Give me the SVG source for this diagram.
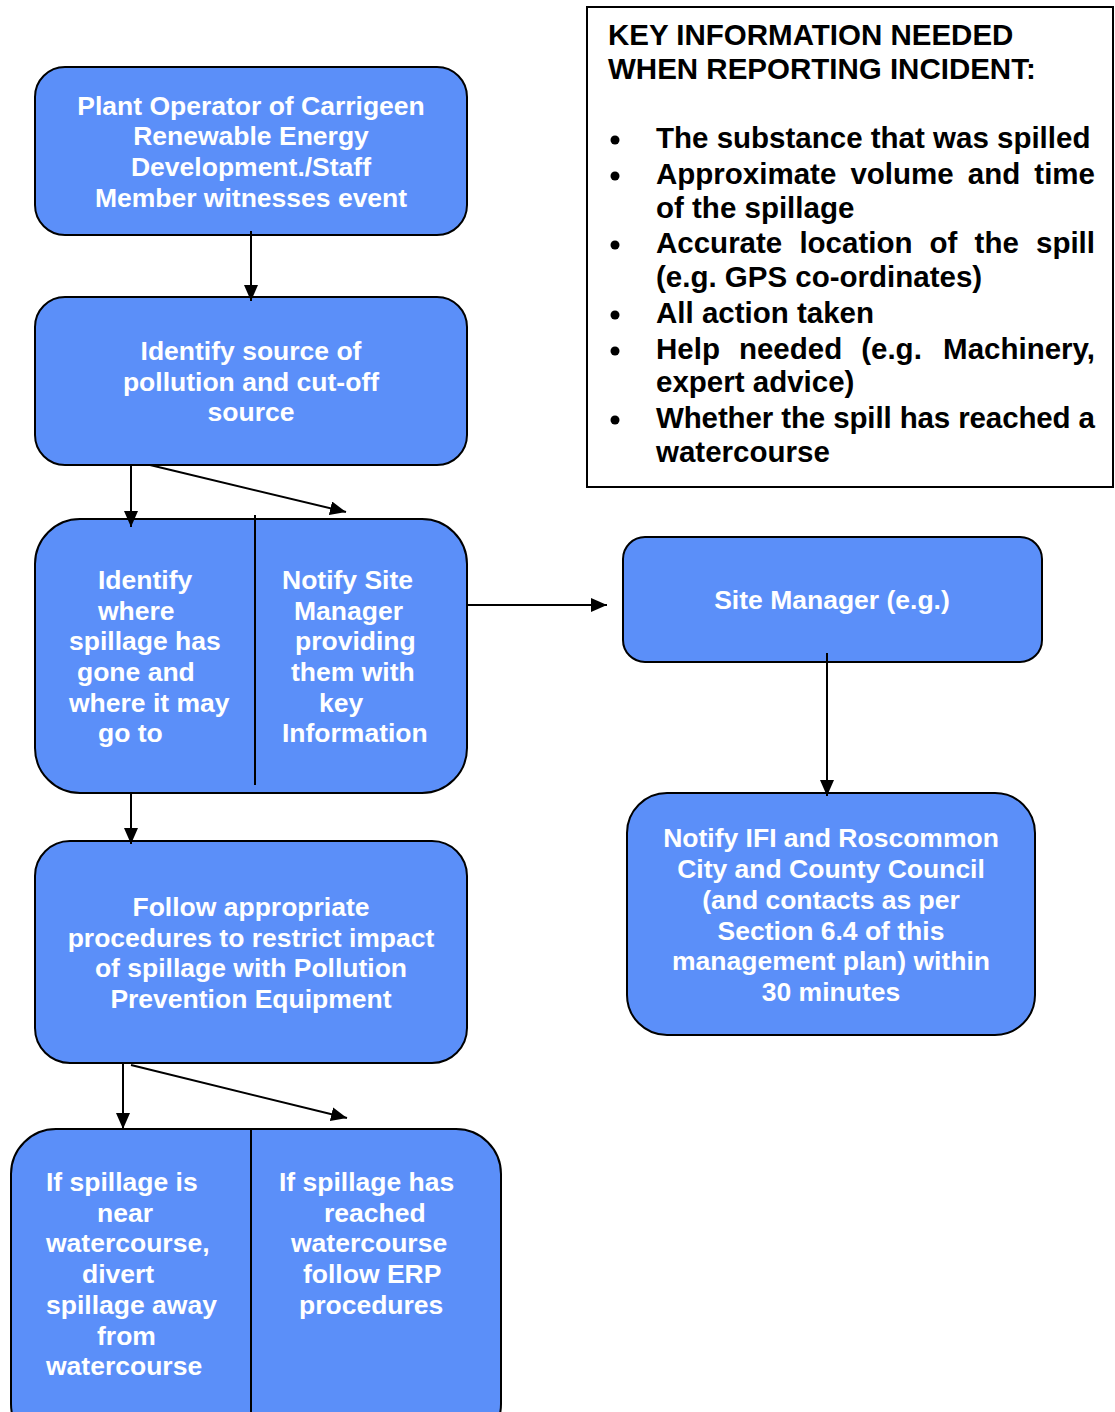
<svg xmlns="http://www.w3.org/2000/svg" width="1115" height="1412" viewBox="0 0 1115 1412">
<style>
.box{fill:#5B8FF9;stroke:#000;stroke-width:2}
.t{font-family:"Liberation Sans",Arial,sans-serif;font-weight:bold;font-size:26.5px;fill:#fff}
.c{text-anchor:middle}
.k{font-family:"Liberation Sans",Arial,sans-serif;font-weight:bold;font-size:29.5px;fill:#000}
.ln{stroke:#000;stroke-width:2;fill:none}
</style>
<defs>
<marker id="ah" markerWidth="16" markerHeight="14" refX="16" refY="7" orient="auto" markerUnits="userSpaceOnUse">
<path d="M0,0 L16,7 L0,14 Z" fill="#000"/>
</marker>
</defs>
<rect width="1115" height="1412" fill="#fff"/>

<g id="key-info">
<rect x="587" y="7" width="526" height="480" fill="#fff" stroke="#000" stroke-width="2"/>
<text class="k" x="608" y="45">KEY INFORMATION NEEDED</text>
<text class="k" x="608" y="79">WHEN REPORTING INCIDENT:</text>
<g fill="#000">
<circle cx="615" cy="140" r="4.5"/>
<circle cx="615" cy="176" r="4.5"/>
<circle cx="615" cy="245" r="4.5"/>
<circle cx="615" cy="315" r="4.5"/>
<circle cx="615" cy="351" r="4.5"/>
<circle cx="615" cy="420" r="4.5"/>
</g>
<text class="k" x="656" y="148">The substance that was spilled</text>
<text class="k" y="184"><tspan x="656">Approximate</tspan><tspan x="850.4">volume</tspan><tspan x="967.8">and</tspan></text>
<text class="k" x="1095" y="184" text-anchor="end">time</text>
<text class="k" x="656" y="218">of the spillage</text>
<text class="k" y="253"><tspan x="656">Accurate</tspan><tspan x="799.4">location</tspan><tspan x="929.6">of</tspan><tspan x="974.6">the</tspan></text>
<text class="k" x="1095" y="253" text-anchor="end">spill</text>
<text class="k" x="656" y="287">(e.g. GPS co-ordinates)</text>
<text class="k" x="656" y="323">All action taken</text>
<text class="k" y="359"><tspan x="656">Help</tspan><tspan x="738.9">needed</tspan><tspan x="861.2">(e.g.</tspan></text>
<text class="k" x="1095" y="359" text-anchor="end">Machinery,</text>
<text class="k" x="656" y="392">expert advice)</text>
<text class="k" x="656" y="428" textLength="439" lengthAdjust="spacing">Whether the spill has reached a</text>
<text class="k" x="656" y="462">watercourse</text>
</g>

<g id="plant-operator">
<rect class="box" x="35" y="67" width="432" height="168" rx="30"/>
<text class="t c" x="251" y="115">Plant Operator of Carrigeen</text>
<text class="t c" x="251" y="145">Renewable Energy</text>
<text class="t c" x="251" y="176">Development./Staff</text>
<text class="t c" x="251" y="207">Member witnesses event</text>
</g>

<g id="identify-source">
<rect class="box" x="35" y="297" width="432" height="168" rx="30"/>
<text class="t c" x="251" y="360">Identify source of</text>
<text class="t c" x="251" y="391">pollution and cut-off</text>
<text class="t c" x="251" y="421">source</text>
</g>

<g id="identify-notify">
<rect class="box" x="35" y="519" width="432" height="274" rx="45"/>
<line class="ln" x1="255" y1="515" x2="255" y2="785"/>
<text class="t" x="98" y="589">Identify</text>
<text class="t" x="98" y="620">where</text>
<text class="t" x="69" y="650">spillage has</text>
<text class="t" x="77" y="681">gone and</text>
<text class="t" x="69" y="712">where it may</text>
<text class="t" x="98" y="742">go to</text>
<text class="t" x="282" y="589">Notify Site</text>
<text class="t" x="294" y="620">Manager</text>
<text class="t" x="295" y="650">providing</text>
<text class="t" x="291" y="681">them with</text>
<text class="t" x="319" y="712">key</text>
<text class="t" x="282" y="742">Information</text>
</g>

<g id="site-manager">
<rect class="box" x="623" y="537" width="419" height="125" rx="22"/>
<text class="t c" x="832" y="609">Site Manager (e.g.)</text>
</g>

<g id="notify-ifi">
<rect class="box" x="627" y="793" width="408" height="242" rx="40"/>
<text class="t c" x="831" y="847">Notify IFI and Roscommon</text>
<text class="t c" x="831" y="878">City and County Council</text>
<text class="t c" x="831" y="909">(and contacts as per</text>
<text class="t c" x="831" y="940">Section 6.4 of this</text>
<text class="t c" x="831" y="970">management plan) within</text>
<text class="t c" x="831" y="1001">30 minutes</text>
</g>

<g id="follow-procedures">
<rect class="box" x="35" y="841" width="432" height="222" rx="35"/>
<text class="t c" x="251" y="916">Follow appropriate</text>
<text class="t c" x="251" y="947">procedures to restrict impact</text>
<text class="t c" x="251" y="977">of spillage with Pollution</text>
<text class="t c" x="251" y="1008">Prevention Equipment</text>
</g>

<g id="watercourse-actions">
<rect class="box" x="11" y="1129" width="490" height="320" rx="45"/>
<line class="ln" x1="251" y1="1129" x2="251" y2="1412"/>
<text class="t" x="46" y="1191">If spillage is</text>
<text class="t" x="97" y="1222">near</text>
<text class="t" x="46" y="1252">watercourse,</text>
<text class="t" x="82" y="1283">divert</text>
<text class="t" x="46" y="1314">spillage away</text>
<text class="t" x="97" y="1345">from</text>
<text class="t" x="46" y="1375">watercourse</text>
<text class="t" x="279" y="1191">If spillage has</text>
<text class="t" x="324" y="1222">reached</text>
<text class="t" x="291" y="1252">watercourse</text>
<text class="t" x="303" y="1283">follow ERP</text>
<text class="t" x="299" y="1314">procedures</text>
</g>

<g id="connectors">
<line class="ln" x1="251" y1="231" x2="251" y2="301" marker-end="url(#ah)"/>
<line class="ln" x1="131" y1="465" x2="131" y2="527" marker-end="url(#ah)"/>
<line class="ln" x1="150" y1="465" x2="346" y2="512" marker-end="url(#ah)"/>
<line class="ln" x1="467" y1="605" x2="607" y2="605" marker-end="url(#ah)"/>
<line class="ln" x1="827" y1="653" x2="827" y2="796" marker-end="url(#ah)"/>
<line class="ln" x1="131" y1="793" x2="131" y2="844" marker-end="url(#ah)"/>
<line class="ln" x1="123" y1="1063" x2="123" y2="1129" marker-end="url(#ah)"/>
<line class="ln" x1="131" y1="1065" x2="347" y2="1118" marker-end="url(#ah)"/>
</g>
</svg>
